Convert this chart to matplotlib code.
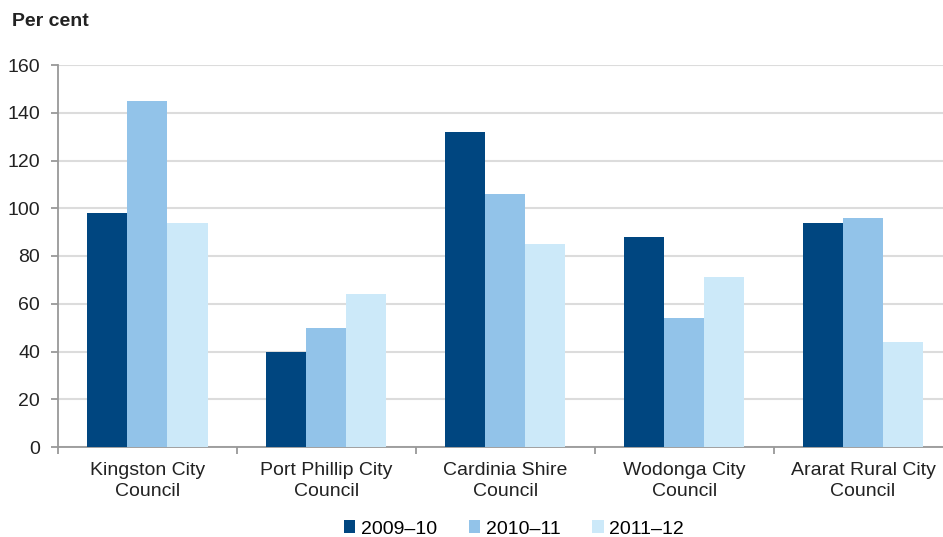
import numpy as np
import matplotlib.pyplot as plt

plt.rcParams['font.family'] = ['Liberation Sans', 'DejaVu Sans']

# data
councils = ['Kingston City\nCouncil', 'Port Phillip City\nCouncil', 'Cardinia Shire\nCouncil',
            'Wodonga City\nCouncil', 'Ararat Rural City\nCouncil']
years = ['2009\u201310', '2010\u201311', '2011\u201312']
v_2009 = [98, 40, 132, 88, 94]
v_2010 = [145, 50, 106, 54, 96]
v_2011 = [94, 64, 85, 71, 44]
colors = ['#004680', '#92c3e9', '#cce9f9']

W, H = 943, 537
fig = plt.figure(figsize=(W / 100, H / 100), dpi=100)
ax = fig.add_axes([58 / W, (H - 447) / H, (W - 58) / W, 382 / H])

x = np.arange(len(councils))
bw = 0.224
for i, (vals, lab) in enumerate(zip([v_2009, v_2010, v_2011], years)):
    ax.bar(x + (i - 1) * bw, vals, width=bw, color=colors[i], label=lab, zorder=3)

ax.set_ylim(0, 160)
ax.set_yticks(range(0, 161, 20))
ax.set_xlim(-0.5, -0.5 + (W - 58) / 178.9)
ax.grid(axis='y', color='#dcdcdc', linewidth=1.5, zorder=0)

# category labels in the middle, ticks at boundaries
ax.set_xticks(x)
ax.set_xticklabels(councils, fontsize=14, color='#222222', linespacing=1.3)
ax.tick_params(axis='x', length=0, pad=11)
ax.set_xticks(np.arange(0, 5) - 0.5, minor=True)
ax.tick_params(axis='x', which='minor', length=5, width=1.3, color='#999999')
ax.tick_params(axis='y', labelsize=14, labelcolor='#222222', length=5, width=1.3,
               color='#999999', pad=8)

for s in ['top', 'right']:
    ax.spines[s].set_visible(False)
ax.spines['left'].set_color('#999999')
ax.spines['bottom'].set_color('#999999')
ax.spines['left'].set_linewidth(1.3)
ax.spines['bottom'].set_linewidth(1.3)

fig.text(12 / W, 1 - 22 / H, 'Per cent', fontsize=14, fontweight='bold',
         color='#222222', va='center', ha='left')

fig.legend(loc='center', bbox_to_anchor=(514 / W, 1 - 529 / H), ncol=3, frameon=False,
           fontsize=14, handlelength=0.6, handleheight=0.6, handletextpad=0.3,
           columnspacing=1.6, borderaxespad=0)

fig.savefig('out.png', dpi=100)
